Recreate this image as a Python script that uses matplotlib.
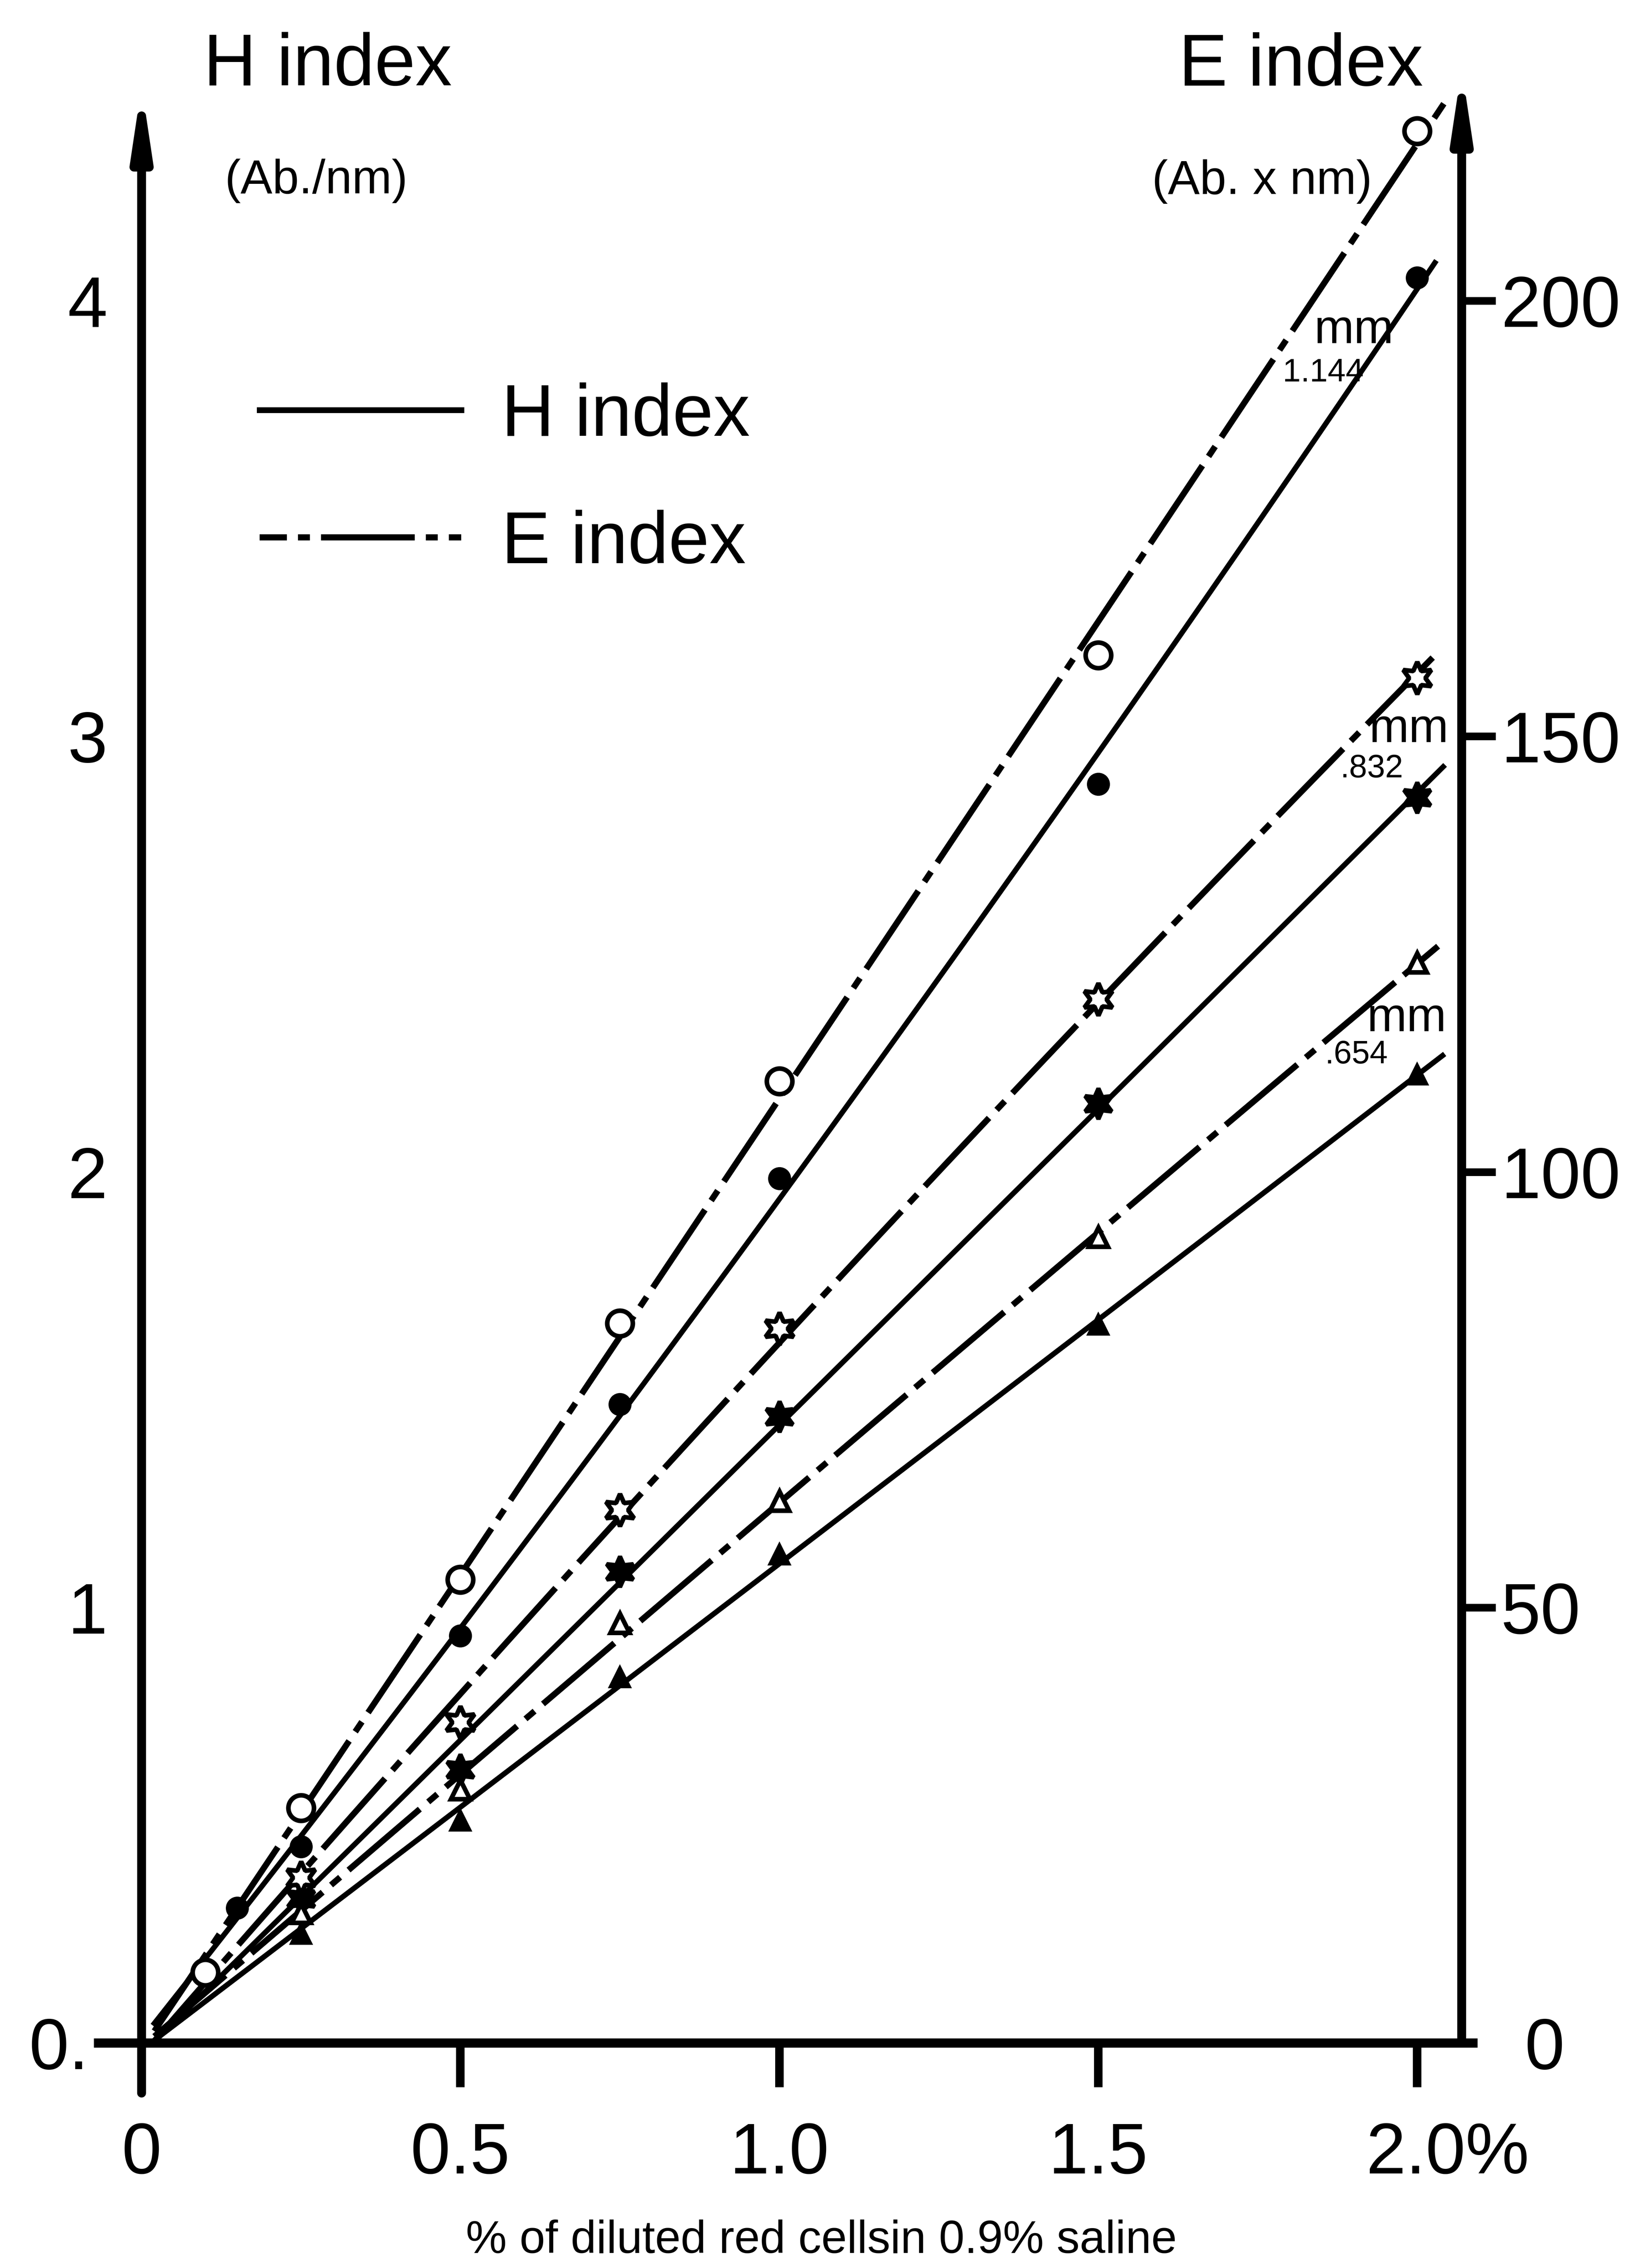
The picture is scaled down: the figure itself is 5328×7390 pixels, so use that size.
import matplotlib
matplotlib.use("Agg")
import matplotlib.pyplot as plt
import matplotlib.transforms as mtransforms
from matplotlib.lines import Line2D
import numpy as np

plt.rcParams["font.family"] = ["Liberation Sans", "DejaVu Sans"]
plt.rcParams["lines.scale_dashes"] = False

# % of diluted red cells in 0.9% saline
conc = [0.25, 0.5, 0.75, 1.0, 1.5, 2.0]

# 1.144 mm cuvette (extra low-concentration reading on each curve)
h_1144_x = [0.15] + conc
h_1144 = [0.31, 0.451, 0.935, 1.466, 1.985, 2.890, 4.053]
e_1144_x = [0.1] + conc
e_1144 = [8.1, 27.0, 53.2, 82.6, 110.4, 159.3, 219.5]

# .832 mm cuvette
h_832 = [0.331, 0.628, 1.082, 1.438, 2.157, 2.859]
e_832 = [19.0, 36.8, 61.2, 82.0, 119.8, 156.7]

# .654 mm cuvette
h_654 = [0.250, 0.510, 0.839, 1.121, 1.649, 2.223]
e_654 = [14.9, 29.1, 48.2, 62.2, 92.5, 124.0]

# how far each drawn curve runs
h_curve_end = [2.028, 2.041, 2.040]
e_curve_end = [2.042, 2.028, 2.033]

x_ticks = [0, 0.5, 1.0, 1.5, 2.0]
x_tick_labels = ["0", "0.5", "1.0", "1.5", "2.0%"]
h_ticks = [0, 1, 2, 3, 4]
h_tick_labels = ["0.", "1", "2", "3", "4"]
e_ticks = [0, 50, 100, 150, 200]

E_DASH = (0, (55, 6.5, 7, 6.5))


def fitted_curve(x, y, x_end):
    # smooth quadratic through the readings and the origin
    xs = np.concatenate([[0.0], x])
    ys = np.concatenate([[0.0], y])
    coef = np.polyfit(xs, ys, 2)
    xf = np.linspace(0.02, x_end, 200)
    return xf, np.polyval(coef, xf)


def shift(label, dx_pt, dy_pt=0):
    label.set_transform(label.get_transform() +
                        mtransforms.ScaledTranslation(dx_pt / 72, dy_pt / 72,
                                                      fig.dpi_scale_trans))


fig = plt.figure(figsize=(13.32, 18.475), dpi=400)
ax = fig.add_axes([0.0866, 0.0992, 0.8074, 0.8738])
ax.set_xlim(0, 2.07)
ax.set_ylim(0, 4.55)
ax2 = ax.twinx()
ax2.set_ylim(0, 4.55 * 50)

for a in (ax, ax2):
    for sp in a.spines.values():
        sp.set_visible(False)
    a.patch.set_visible(False)

# axis lines
ax.plot([-0.075, 2.095], [0, 0], color="black", lw=5.4, clip_on=False,
        solid_capstyle="butt")


def axis_arrow(x0, y0, x1, y1):
    ax.annotate("", xy=(x1, y1), xytext=(x0, y0),
                arrowprops=dict(arrowstyle="-|>,head_length=3.0,head_width=0.45",
                                mutation_scale=10, lw=5.2, color="black",
                                shrinkA=0, shrinkB=0),
                annotation_clip=False)


axis_arrow(0, -0.115, 0, 4.493)
axis_arrow(2.07, 0, 2.07, 4.534)

# ticks
ax.set_xticks(x_ticks, x_tick_labels)
ax.tick_params(axis="x", length=26, width=5, pad=20, labelsize=42,
               direction="out")
shift(ax.get_xticklabels()[-1], 18)

ax.set_yticks(h_ticks, h_tick_labels)
ax.tick_params(axis="y", length=0, pad=20, labelsize=42)
shift(ax.get_yticklabels()[0], -11)

ax2.set_yticks(e_ticks)
ax2.tick_params(axis="y", length=20, width=4.5, pad=3, labelsize=42)
ax2.yaxis.get_major_ticks()[0].tick2line.set_visible(False)
shift(ax2.get_yticklabels()[0], 14)

# H index curves (left axis) and E index curves (right axis)
h_sets = [(h_1144_x, h_1144, dict(marker="o", ms=11, mfc="black")),
          (conc, h_832, dict(marker=(6, 1, 0), ms=18, mfc="black")),
          (conc, h_654, dict(marker="^", ms=10, mfc="black"))]
e_sets = [(e_1144_x, e_1144, dict(marker="o", ms=15, mfc="white")),
          (conc, e_832, dict(marker=(6, 1, 0), ms=19, mfc="white")),
          (conc, e_654, dict(marker="^", ms=11, mfc="white"))]

for (x, y, mk), x_end in zip(h_sets, h_curve_end):
    xf, yf = fitted_curve(x, y, x_end)
    ax.plot(xf, yf, color="black", lw=3.1, zorder=2)
    ax.plot(x, y, ls="none", mec="black", mew=2.5, zorder=4, clip_on=False, **mk)

for (x, y, mk), x_end in zip(e_sets, e_curve_end):
    xf, yf = fitted_curve(x, y, x_end)
    ax2.plot(xf, yf, color="black", lw=3.6, ls=E_DASH, zorder=2,
             clip_on=False)
    ax2.plot(x, y, ls="none", mec="black", mew=2.7, zorder=4, clip_on=False, **mk)

# axis titles
ax.text(0.292, 4.495, "H index", fontsize=43, ha="center", va="baseline",
        clip_on=False)
ax.text(0.274, 4.247, "(Ab./nm)", fontsize=28, ha="center", va="baseline",
        clip_on=False)
ax.text(1.818, 4.494, "E index", fontsize=43, ha="center", va="baseline",
        clip_on=False)
ax.text(1.757, 4.245, "(Ab. x nm)", fontsize=28, ha="center", va="baseline",
        clip_on=False)

# cuvette thickness labels
cuvettes = ["1.144", ".832", ".654"]
mm_pos = [(1.901, 3.903), (1.987, 2.987), (1.984, 2.323)]
num_pos = [(1.853, 3.815), (1.929, 2.906), (1.905, 2.249)]
for name, (mx, my), (nx, ny) in zip(cuvettes, mm_pos, num_pos):
    ax.text(mx, my, "mm", fontsize=28, ha="center", va="baseline")
    ax.text(nx, ny, name, fontsize=19, ha="center", va="baseline")

ax.set_xlabel("% of diluted red cellsin 0.9% saline", fontsize=27)
ax.xaxis.set_label_coords(0.515, -0.089)

handles = [Line2D([], [], color="black", lw=3.4),
           Line2D([], [], color="black", lw=3.6, ls=(39, (55, 6.5, 7, 6.5)))]
ax2.legend(handles, ["H index", "E index"], loc="upper left",
           bbox_to_anchor=(0.0894, 0.838), frameon=False, fontsize=43,
           handlelength=2.75, handletextpad=0.55, labelspacing=0.8,
           borderpad=0, borderaxespad=0)

fig.savefig("out.png", dpi=400)
